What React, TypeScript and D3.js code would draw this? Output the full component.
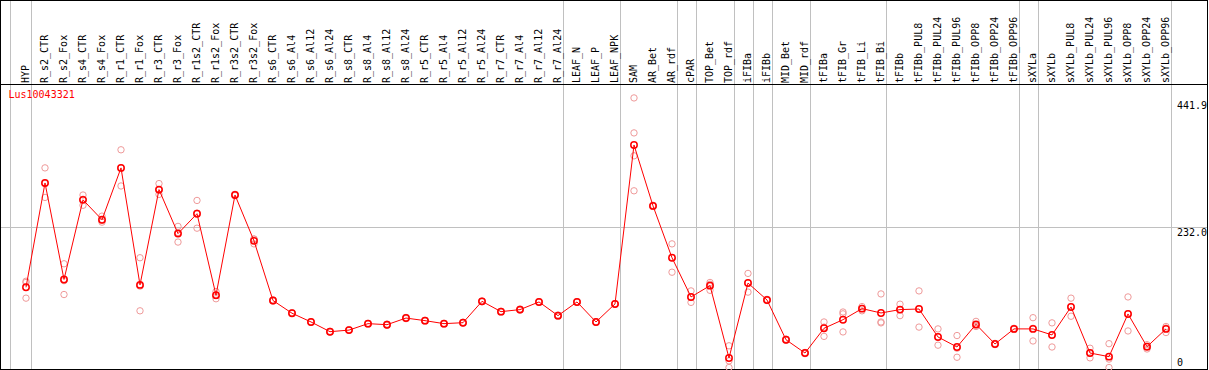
import React from "react";
import * as d3 from "d3";

const categories = [
  "HYP", "R_s2_CTR", "R_s2_Fox", "R_s4_CTR", "R_s4_Fox", "R_r1_CTR", "R_r1_Fox", "R_r3_CTR", "R_r3_Fox",
  "R_r1s2_CTR", "R_r1s2_Fox", "R_r3s2_CTR", "R_r3s2_Fox", "R_s6_CTR", "R_s6_Al4", "R_s6_Al12", "R_s6_Al24",
  "R_s8_CTR", "R_s8_Al4", "R_s8_Al12", "R_s8_Al24", "R_r5_CTR", "R_r5_Al4", "R_r5_Al12", "R_r5_Al24",
  "R_r7_CTR", "R_r7_Al4", "R_r7_Al12", "R_r7_Al24", "LEAF_N", "LEAF_P", "LEAF_NPK", "SAM", "AR_Bet", "AR_rdf",
  "cPAR", "TOP_Bet", "TOP_rdf", "iFIBa", "iFIBb", "MID_Bet", "MID_rdf", "tFIBa", "tFIB_Gr", "tFIB_Li", "tFIB_Bi",
  "tFIBb", "tFIBb_PUL8", "tFIBb_PUL24", "tFIBb_PUL96", "tFIBb_OPP8", "tFIBb_OPP24", "tFIBb_OPP96",
  "sXYLa", "sXYLb", "sXYLb_PUL8", "sXYLb_PUL24", "sXYLb_PUL96", "sXYLb_OPP8", "sXYLb_OPP24", "sXYLb_OPP96",
];

const meanValues = [
  133, 306, 146, 278, 245, 331, 137, 295, 222,
  255, 120, 286, 210, 111, 90, 75.5, 59.4,
  62, 72.7, 71, 82, 77.7, 72.7, 74.3, 109.7,
  92.6, 96, 108.7, 86, 108.7, 75.5, 105.4, 369, 268, 182,
  117, 135.7, 15.8, 140, 112, 46, 24, 65, 79.3, 97.6, 90.4,
  96, 97, 50.6, 34, 71.5, 39, 64,
  64, 54, 100.4, 24, 18, 88.8, 34.5, 64,
];

const replicates = [
  [143, 141, 115], [331, 282, 305], [172, 121, 144], [286, 269, 279], [251, 241, 244], [361, 301, 331],
  [182, 94, 135], [305, 287, 294], [234, 208, 224], [277, 231, 256], [126, 114, 119], [287, 285, 287],
  [213, 205, 213], [111, 110, 112], [90, 91, 90], [75, 76, 75], [59, 60, 59],
  [62, 63, 62], [72, 73, 73], [71, 70, 72], [82, 81, 83], [77, 78, 78], [72, 73, 73], [74, 75, 74], [110, 109, 110],
  [92, 93, 93], [96, 95, 97], [108, 109, 109], [86, 85, 87], [108, 109, 109], [75, 76, 75], [105, 106, 105],
  [447, 389, 351, 293], [268, 267, 269], [205, 158, 182],
  [127, 108, 116], [141, 128, 138], [36, 0, 11], [156, 125, 140], [112, 111, 113], [46, 45, 47], [24, 23, 25],
  [75.5, 51.6, 67], [92, 89, 59], [94, 101, 98], [122, 75.5, 74],
  [105, 86, 96], [127, 67, 97], [64, 37, 51], [53, 17, 32], [76.5, 70, 68], [39, 38, 40], [64, 63, 65],
  [82.6, 44, 65], [74, 34, 54], [115, 85, 101], [32, 16, 24], [39.5, 0, 14], [117, 60.6, 89], [30.7, 37.8, 35], [68, 65.5, 58],
];

const groupEnds = [
  "HYP", "R_r7_Al24", "LEAF_NPK", "AR_rdf", "cPAR", "TOP_rdf", "iFIBa", "iFIBb", "MID_rdf", "tFIB_Bi",
  "tFIBb_OPP96", "sXYLa", "sXYLb_OPP96",
];

const yTicks = [441.9, 232.0, 0];
const yGridValues = [232.0];
const title = "Lus10043321";

const W = 1209;
const H = 370;
const FONT = "'DejaVu Sans Mono', monospace";

export default function App() {
  const x = d3.scalePoint<string>().domain(categories).range([26, 1166]);
  const y = d3.scaleLinear().domain([0, 441.9]).range([367.5, 101]);
  const step = x.step();

  const line = d3
    .line<number>()
    .x((_, i) => x(categories[i]) as number)
    .y((d) => y(d));

  const headerY = 84.5;
  const gridXs = [
    Math.round((x(categories[0]) as number) - step * 0.82) + 0.5,
    ...groupEnds.map((c) => Math.round((x(c) as number) + step * 0.24) + 0.5),
  ];

  return (
    <svg
      width={W}
      height={H}
      style={{ position: "absolute", left: 0, top: 0, background: "#fff" }}
      fontFamily={FONT}
    >
      <rect x={0} y={0} width={W} height={H} fill="#fff" />
      {/* vertical grid lines */}
      {gridXs.map((gx, i) => (
        <line key={"gx" + i} x1={gx} x2={gx} y1={0} y2={369} stroke="#c0c0c0" strokeWidth={1} shapeRendering="crispEdges" />
      ))}
      {/* horizontal grid lines */}
      {yGridValues.map((v, i) => {
        const gy = Math.floor(y(v)) + 0.5;
        return <line key={"gy" + i} x1={0} x2={1207} y1={gy} y2={gy} stroke="#c0c0c0" strokeWidth={1} shapeRendering="crispEdges" />;
      })}
      {/* header separator */}
      <line x1={0} x2={1207} y1={headerY} y2={headerY} stroke="#000" strokeWidth={1} shapeRendering="crispEdges" />
      {/* border */}
      <rect x={0.5} y={0.5} width={1207} height={369} fill="none" stroke="#000" strokeWidth={1} shapeRendering="crispEdges" />

      {/* category labels */}
      {categories.map((c) => {
        const cx = (x(c) as number) + 3.3;
        return (
          <text key={"lab" + c} transform={`translate(${cx},83) rotate(-90)`} fontSize={10} fill="#000" textAnchor="start">
            {c}
          </text>
        );
      })}

      {/* y labels */}
      {yTicks.map((v, i) => {
        const ty = v === 0 ? 366 : y(v) + 8.3;
        return (
          <text key={"yt" + i} x={1177} y={ty} fontSize={10} fill="#000">
            {v === 0 ? "0" : v.toFixed(1)}
          </text>
        );
      })}

      {/* title */}
      <text x={8.5} y={98} fontSize={10} fill="#ff0000">
        {title}
      </text>

      {/* replicate points */}
      {replicates.map((reps, i) =>
        reps.map((r, j) => (
          <circle
            key={"r" + i + "_" + j}
            cx={x(categories[i]) as number}
            cy={y(r)}
            r={3.2}
            fill="none"
            stroke="#ef9a9a"
            strokeWidth={1}
          />
        ))
      )}

      {/* mean line */}
      <path d={line(meanValues) || ""} fill="none" stroke="#ff0000" strokeWidth={1} />

      {/* mean points */}
      {meanValues.map((v, i) => (
        <circle key={"m" + i} cx={x(categories[i]) as number} cy={y(v)} r={3.2} fill="none" stroke="#ff0000" strokeWidth={1.5} />
      ))}
    </svg>
  );
}
